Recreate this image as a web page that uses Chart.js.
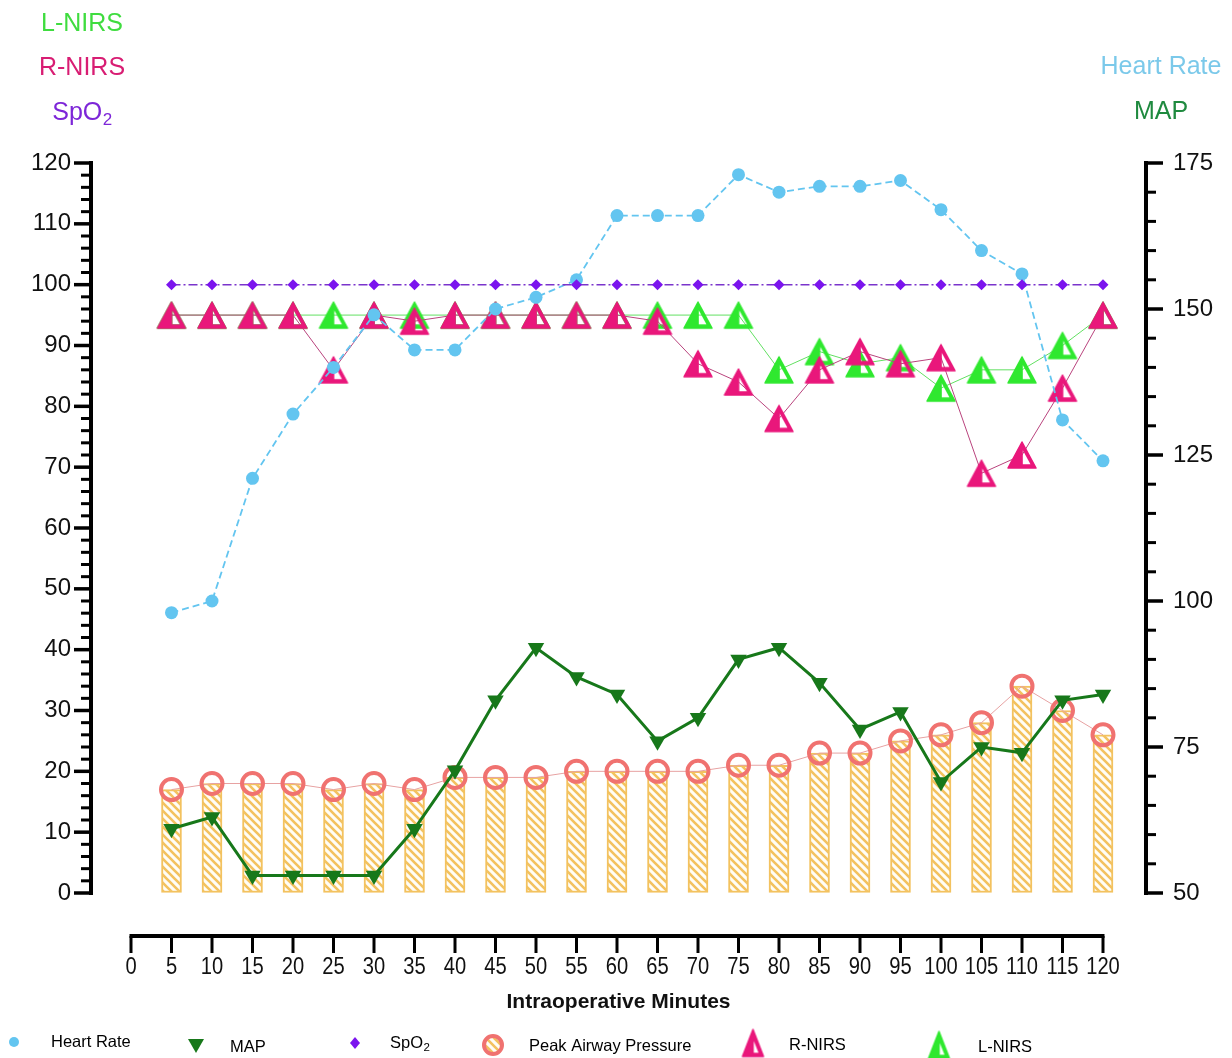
<!DOCTYPE html>
<html>
<head>
<meta charset="utf-8">
<script src="https://cdn.jsdelivr.net/npm/chart.js@4.4.1/dist/chart.umd.min.js"></script>
<style>
  html, body { margin: 0; padding: 0; background: #fff; }
  #wrap { width: 1232px; height: 1058px; position: relative; }
</style>
</head>
<body>
<div id="wrap"><canvas id="c" width="1232" height="1058"></canvas></div>
<script>
// Intraoperative monitoring, one reading every 5 minutes
const minutes     = [5, 10, 15, 20, 25, 30, 35, 40, 45, 50, 55, 60, 65, 70, 75, 80, 85, 90, 95, 100, 105, 110, 115, 120];
const heartRate   = [98, 100, 121, 132, 140, 149, 143, 143, 150, 152, 155, 166, 166, 166, 173, 170, 171, 171, 172, 167, 160, 156, 131, 124];
const meanArtPress= [61, 63, 53, 53, 53, 53, 61, 71, 83, 92, 87, 84, 76, 80, 90, 92, 86, 78, 81, 69, 75, 74, 83, 84];
const spo2        = [100, 100, 100, 100, 100, 100, 100, 100, 100, 100, 100, 100, 100, 100, 100, 100, 100, 100, 100, 100, 100, 100, 100, 100];
const peakAirway  = [17, 18, 18, 18, 17, 18, 17, 19, 19, 19, 20, 20, 20, 20, 21, 21, 23, 23, 25, 26, 28, 34, 30, 26];
const rightNirs   = [95, 95, 95, 95, 86, 95, 94, 95, 95, 95, 95, 95, 94, 87, 84, 78, 86, 89, 87, 88, 69, 72, 83, 95];
const leftNirs    = [95, 95, 95, 95, 95, 95, 95, 95, 95, 95, 95, 95, 95, 95, 95, 86, 89, 87, 88, 83, 86, 86, 90, 95];

const xTickValues     = [0, 5, 10, 15, 20, 25, 30, 35, 40, 45, 50, 55, 60, 65, 70, 75, 80, 85, 90, 95, 100, 105, 110, 115, 120];
const leftTickValues  = [0, 10, 20, 30, 40, 50, 60, 70, 80, 90, 100, 110, 120];
const rightTickValues = [50, 75, 100, 125, 150, 175];

const FONT = '"Liberation Sans", Arial, Helvetica, sans-serif';
const C = {
  hr: '#63c5f0', map: '#17781a', spo2: '#7b14ee', spo2Line: '#7a34cc',
  pap: '#f07270', papLine: '#e7a2a2', bar: '#f3c25f',
  rn: '#e9177b', rnLine: '#b9437d', ln: '#2fe82f', lnLine: '#62e062'
};

const canvas = document.getElementById('c');
const ctx = canvas.getContext('2d');

// diagonal hatch used to fill the airway-pressure bars
function hatch() {
  const t = document.createElement('canvas');
  t.width = 8; t.height = 8;
  const g = t.getContext('2d');
  g.fillStyle = '#fffdf6';
  g.fillRect(0, 0, 8, 8);
  g.strokeStyle = C.bar;
  g.lineWidth = 2.6;
  g.beginPath();
  g.moveTo(-2, -2); g.lineTo(10, 10);
  g.moveTo(-2, 6); g.lineTo(2, 10);
  g.moveTo(6, -2); g.lineTo(10, 2);
  g.stroke();
  return ctx.createPattern(t, 'repeat');
}
const barFill = hatch();

// triangle marker with a hollow wedge right of its centre line
function nirsMarker(color, w, h) {
  const c = document.createElement('canvas');
  c.width = w + 4; c.height = h + 4;
  const g = c.getContext('2d');
  const cx = c.width / 2, top = 2, bot = 2 + h;
  g.fillStyle = color; g.strokeStyle = color;
  g.lineWidth = 1.5; g.lineJoin = 'round';
  g.beginPath();
  g.moveTo(cx, top); g.lineTo(cx + w / 2, bot); g.lineTo(cx - w / 2, bot); g.closePath();
  g.fill(); g.stroke();
  g.globalCompositeOperation = 'destination-out';
  const slope = (w / 2) / h;
  const inset = 3.5;
  const yB = bot - 3.8;
  const xB = cx + slope * (yB - top) - inset;
  const yT = top + (1 + inset) / slope;
  g.beginPath();
  g.moveTo(cx + 0.8, yT); g.lineTo(cx + 0.8, yB); g.lineTo(xB, yB); g.closePath();
  g.fill();
  return c;
}
const rnMark = nirsMarker(C.rn, 28, 26);
const lnMark = nirsMarker(C.ln, 28, 26);
const rnLegend = nirsMarker(C.rn, 21, 27);
const lnLegend = nirsMarker(C.ln, 21, 27);

const pts = arr => minutes.map((m, i) => ({ x: m, y: arr[i] }));

// chart-area geometry: left axis at x=91, right axis at x=1146, x=0..120 spans 131..1103
const AREA_L = 91, AREA_R = 1146;
const PX_PER_MIN = (1103 - 131) / 120;
const X_MIN = -(131 - AREA_L) / PX_PER_MIN;
const X_MAX = 120 + (AREA_R - 1103) / PX_PER_MIN;

function drawSubText(g, base, sub, x, y, size, subSize, align) {
  g.font = size + 'px ' + FONT;
  const wb = g.measureText(base).width;
  g.font = subSize + 'px ' + FONT;
  const ws = g.measureText(sub).width;
  let x0 = x;
  if (align === 'center') x0 = x - (wb + ws) / 2;
  g.textAlign = 'left';
  g.textBaseline = 'middle';
  g.font = size + 'px ' + FONT;
  g.fillText(base, x0, y);
  g.font = subSize + 'px ' + FONT;
  g.fillText(sub, x0 + wb + 0.5, y + size * 0.3);
}

const axesAndLabels = {
  id: 'axesAndLabels',
  afterDatasetsDraw(chart) {
    const g = chart.ctx;
    const sx = chart.scales.x, yl = chart.scales.y, yr = chart.scales.y2;
    g.save();
    g.strokeStyle = '#000';
    g.lineCap = 'butt';

    // left axis
    const lx = chart.chartArea.left;
    g.lineWidth = 4;
    g.beginPath();
    g.moveTo(lx, yl.getPixelForValue(120) - 2);
    g.lineTo(lx, yl.getPixelForValue(0) + 2);
    g.stroke();
    for (let v = 0; v <= 120; v += 2) {
      const y = yl.getPixelForValue(v);
      const major = v % 10 === 0;
      g.lineWidth = major ? 3.5 : 3;
      g.beginPath();
      g.moveTo(lx - (major ? 17 : 10), y);
      g.lineTo(lx, y);
      g.stroke();
    }

    // right axis
    const rx = chart.chartArea.right;
    g.lineWidth = 4;
    g.beginPath();
    g.moveTo(rx, yr.getPixelForValue(175) - 2);
    g.lineTo(rx, yr.getPixelForValue(50) + 2);
    g.stroke();
    for (let v = 50; v <= 175; v += 5) {
      const y = yr.getPixelForValue(v);
      const major = (v - 50) % 25 === 0;
      g.lineWidth = major ? 3.5 : 3;
      g.beginPath();
      g.moveTo(rx, y);
      g.lineTo(rx + (major ? 17 : 10), y);
      g.stroke();
    }

    // detached time axis with condensed labels
    const ay = 936;
    g.lineWidth = 4;
    g.beginPath();
    g.moveTo(sx.getPixelForValue(0) - 1.5, ay);
    g.lineTo(sx.getPixelForValue(120) + 1.5, ay);
    g.stroke();
    g.lineWidth = 3;
    g.fillStyle = '#111';
    g.font = '24px ' + FONT;
    g.textAlign = 'center';
    g.textBaseline = 'middle';
    xTickValues.forEach(v => {
      const x = sx.getPixelForValue(v);
      g.beginPath();
      g.moveTo(x, ay);
      g.lineTo(x, ay + 17);
      g.stroke();
      g.save();
      g.translate(x, 967);
      g.scale(0.84, 1);
      g.fillText(String(v), 0, 0);
      g.restore();
    });

    // coloured axis captions
    g.textAlign = 'center';
    g.textBaseline = 'middle';
    g.font = '25px ' + FONT;
    g.fillStyle = '#3fdc3f'; g.fillText('L-NIRS', 82, 24);
    g.fillStyle = '#d81d73'; g.fillText('R-NIRS', 82, 68);
    g.fillStyle = '#7d26d8'; drawSubText(g, 'SpO', '2', 82, 113, 25, 17, 'center');
    g.textAlign = 'center';
    g.font = '25px ' + FONT;
    g.fillStyle = '#7bc9ea'; g.fillText('Heart Rate', 1161, 67);
    g.fillStyle = '#1f8a3f'; g.fillText('MAP', 1161, 112);

    // legend row
    g.fillStyle = C.hr;
    g.beginPath(); g.arc(14, 1042, 5, 0, Math.PI * 2); g.fill();

    g.fillStyle = C.map;
    g.beginPath();
    g.moveTo(188, 1039); g.lineTo(204, 1039); g.lineTo(196, 1053); g.closePath(); g.fill();

    g.fillStyle = C.spo2;
    g.beginPath();
    g.moveTo(355, 1037); g.lineTo(360, 1043); g.lineTo(355, 1049); g.lineTo(350, 1043); g.closePath(); g.fill();

    g.save();
    g.beginPath(); g.arc(493, 1045, 9, 0, Math.PI * 2); g.clip();
    g.fillStyle = barFill; g.fillRect(480, 1032, 26, 26);
    g.restore();
    g.strokeStyle = C.pap; g.lineWidth = 4;
    g.beginPath(); g.arc(493, 1045, 9, 0, Math.PI * 2); g.stroke();

    g.drawImage(rnLegend, 753 - rnLegend.width / 2, 1043 - rnLegend.height / 2);
    g.drawImage(lnLegend, 939 - lnLegend.width / 2, 1045 - lnLegend.height / 2);

    g.fillStyle = '#000';
    g.textAlign = 'left';
    g.textBaseline = 'middle';
    g.font = '16.5px ' + FONT;
    g.fillText('Heart Rate', 51, 1042);
    g.fillText('MAP', 230, 1047);
    drawSubText(g, 'SpO', '2', 390, 1043, 16.5, 11.5, 'left');
    g.font = '16.5px ' + FONT;
    g.fillText('Peak Airway Pressure', 529, 1046);
    g.fillText('R-NIRS', 789, 1045);
    g.fillText('L-NIRS', 978, 1047);
    g.restore();
  }
};

new Chart(ctx, {
  type: 'line',
  data: {
    datasets: [
      {
        type: 'bar', label: 'Peak Airway Pressure (bars)', data: pts(peakAirway), yAxisID: 'y',
        backgroundColor: barFill, borderColor: C.bar, borderWidth: 2, barThickness: 20,
        borderSkipped: false, order: 7
      },
      {
        label: 'Peak Airway Pressure', data: pts(peakAirway), yAxisID: 'y',
        borderColor: C.papLine, borderWidth: 1, pointStyle: 'circle', pointRadius: 10.5,
        pointBorderWidth: 4, pointBorderColor: C.pap, pointBackgroundColor: 'rgba(0,0,0,0)', order: 6
      },
      {
        label: 'MAP', data: pts(meanArtPress), yAxisID: 'y2',
        borderColor: C.map, borderWidth: 3, pointStyle: 'triangle', rotation: 180, pointRadius: 9.5,
        pointBackgroundColor: C.map, pointBorderColor: C.map, pointBorderWidth: 0, order: 5
      },
      {
        label: 'L-NIRS', data: pts(leftNirs), yAxisID: 'y',
        borderColor: C.lnLine, borderWidth: 1, pointStyle: lnMark, pointRadius: 14, order: 4
      },
      {
        label: 'R-NIRS', data: pts(rightNirs), yAxisID: 'y',
        borderColor: C.rnLine, borderWidth: 1, pointStyle: rnMark, pointRadius: 14, order: 3
      },
      {
        label: 'Heart Rate', data: pts(heartRate), yAxisID: 'y2',
        borderColor: C.hr, borderWidth: 1.8, borderDash: [7, 4], pointStyle: 'circle', pointRadius: 6.5,
        pointBackgroundColor: C.hr, pointBorderWidth: 0, order: 2
      },
      {
        label: 'SpO2', data: pts(spo2), yAxisID: 'y',
        borderColor: C.spo2Line, borderWidth: 1.5, borderDash: [9, 3, 2, 3], pointStyle: 'rectRot', pointRadius: 5.5,
        pointBackgroundColor: C.spo2, pointBorderWidth: 0, order: 1
      }
    ]
  },
  options: {
    responsive: false,
    animation: false,
    devicePixelRatio: 1,
    layout: { padding: { top: 163, left: 0, right: 0, bottom: 0 } },
    plugins: { legend: { display: false }, tooltip: { enabled: false } },
    elements: { line: { tension: 0 } },
    scales: {
      x: {
        type: 'linear', min: X_MIN, max: X_MAX, offset: false,
        afterBuildTicks: s => { s.ticks = xTickValues.map(v => ({ value: v })); },
        afterFit: s => { s.height = 165; },
        grid: { display: false },
        border: { display: false },
        ticks: { display: false },
        title: { display: true, text: 'Intraoperative Minutes', color: '#111',
                 font: { family: FONT, size: 21, weight: 'bold' }, padding: { top: 0, bottom: 43 } }
      },
      y: {
        type: 'linear', position: 'left', min: 0, max: 120,
        afterBuildTicks: s => { s.ticks = leftTickValues.map(v => ({ value: v })); },
        afterFit: s => { s.width = AREA_L; },
        grid: { display: true, drawOnChartArea: false, drawTicks: true, tickLength: 12, tickColor: 'rgba(0,0,0,0)' },
        border: { display: false },
        ticks: { color: '#111', padding: 8, font: { family: FONT, size: 24 } }
      },
      y2: {
        type: 'linear', position: 'right', min: 50, max: 175,
        afterBuildTicks: s => { s.ticks = rightTickValues.map(v => ({ value: v })); },
        afterFit: s => { s.width = 1232 - AREA_R; },
        grid: { display: true, drawOnChartArea: false, drawTicks: true, tickLength: 12, tickColor: 'rgba(0,0,0,0)' },
        border: { display: false },
        ticks: { color: '#111', padding: 15, font: { family: FONT, size: 24 } }
      }
    }
  },
  plugins: [axesAndLabels]
});
</script>
</body>
</html>
